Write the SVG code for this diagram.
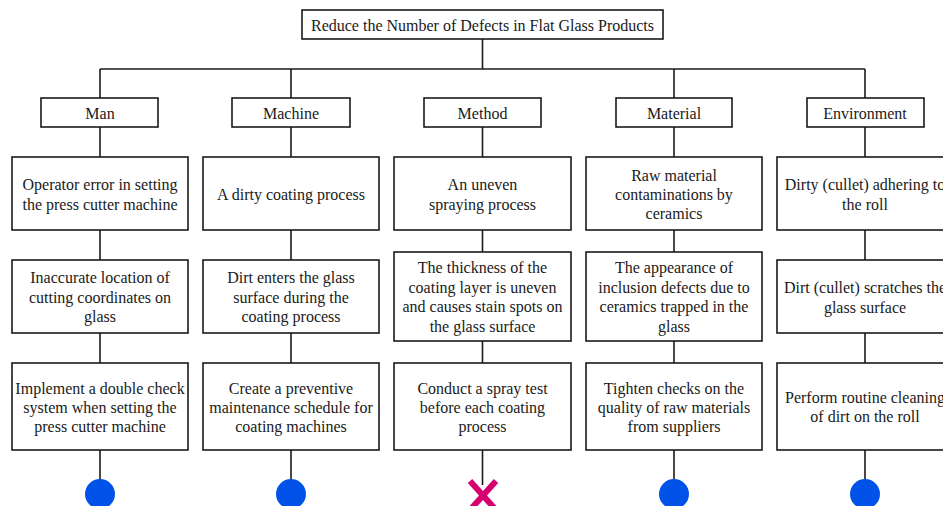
<svg xmlns="http://www.w3.org/2000/svg" width="943" height="506" viewBox="0 0 943 506" font-family="'Liberation Serif', 'DejaVu Serif', 'Times New Roman', serif">
  <style>
    .box { fill: #ffffff; stroke: #1a1a1a; stroke-width: 1.6; }
    .lbl { font-family: "Liberation Serif", "DejaVu Serif", "Times New Roman", serif; font-size: 16px; fill: #1a1a1a; text-anchor: middle; }
    .wire { stroke: #1a1a1a; stroke-width: 1.6; fill: none; }
    .ok { fill: #0052e8; }
    .bad { stroke: #d6006f; stroke-width: 6; stroke-linecap: butt; }
  </style>
  <rect width="943" height="506" fill="#ffffff"/>

  <!-- connectors -->
  <g id="connectors" class="wire">
    <line x1="482.5" y1="39" x2="482.5" y2="69"/>
    <line x1="100" y1="69" x2="865" y2="69"/>
    <line x1="100" y1="69" x2="100" y2="98"/>
    <line x1="291" y1="69" x2="291" y2="98"/>
    <line x1="674" y1="69" x2="674" y2="98"/>
    <line x1="865" y1="69" x2="865" y2="98"/>
    <!-- Man -->
    <line x1="100" y1="127" x2="100" y2="157"/>
    <line x1="100" y1="230" x2="100" y2="260"/>
    <line x1="100" y1="333" x2="100" y2="363"/>
    <line x1="100" y1="450" x2="100" y2="480"/>
    <!-- Machine -->
    <line x1="291" y1="127" x2="291" y2="157"/>
    <line x1="291" y1="230" x2="291" y2="260"/>
    <line x1="291" y1="333" x2="291" y2="363"/>
    <line x1="291" y1="450" x2="291" y2="480"/>
    <!-- Method -->
    <line x1="482.5" y1="127" x2="482.5" y2="157"/>
    <line x1="482.5" y1="230" x2="482.5" y2="252"/>
    <line x1="482.5" y1="341" x2="482.5" y2="363"/>
    <line x1="482.5" y1="450" x2="482.5" y2="485"/>
    <!-- Material -->
    <line x1="674" y1="127" x2="674" y2="157"/>
    <line x1="674" y1="230" x2="674" y2="252"/>
    <line x1="674" y1="341" x2="674" y2="363"/>
    <line x1="674" y1="450" x2="674" y2="480"/>
    <!-- Environment -->
    <line x1="865" y1="127" x2="865" y2="157"/>
    <line x1="865" y1="230" x2="865" y2="260"/>
    <line x1="865" y1="333" x2="865" y2="363"/>
    <line x1="865" y1="450" x2="865" y2="480"/>
  </g>

  <g id="goal">
    <rect class="box" x="302" y="10" width="361" height="29"/>
    <text class="lbl" x="482.5" y="31">Reduce the Number of Defects in Flat Glass Products</text>
  </g>

  <!-- category headers -->
  <g id="cat-man"><rect class="box" x="41" y="98" width="117" height="29"/><text class="lbl" x="100" y="119">Man</text></g>
  <g id="cat-machine"><rect class="box" x="232" y="98" width="118" height="29"/><text class="lbl" x="291" y="119">Machine</text></g>
  <g id="cat-method"><rect class="box" x="424" y="98" width="117" height="29"/><text class="lbl" x="482.5" y="119">Method</text></g>
  <g id="cat-material"><rect class="box" x="616" y="98" width="116" height="29"/><text class="lbl" x="674" y="119">Material</text></g>
  <g id="cat-environment"><rect class="box" x="807" y="98" width="117" height="29"/><text class="lbl" x="865" y="119">Environment</text></g>

  <!-- Man column -->
  <g id="man-cause">
    <rect class="box" x="12" y="157" width="176" height="73"/>
    <text class="lbl" x="100" y="190">Operator error in setting</text>
    <text class="lbl" x="100" y="210">the press cutter machine</text>
  </g>
  <g id="man-effect">
    <rect class="box" x="12" y="260" width="176" height="73"/>
    <text class="lbl" x="100" y="283">Inaccurate location of</text>
    <text class="lbl" x="100" y="303">cutting coordinates on</text>
    <text class="lbl" x="100" y="322">glass</text>
  </g>
  <g id="man-action">
    <rect class="box" x="12" y="363" width="176" height="87"/>
    <text class="lbl" x="100" y="394">Implement a double check</text>
    <text class="lbl" x="100" y="413">system when setting the</text>
    <text class="lbl" x="100" y="432">press cutter machine</text>
  </g>
  <g id="man-status"><circle class="ok" cx="100" cy="494" r="15"/></g>

  <!-- Machine column -->
  <g id="machine-cause">
    <rect class="box" x="203" y="157" width="176" height="73"/>
    <text class="lbl" x="291" y="200">A dirty coating process</text>
  </g>
  <g id="machine-effect">
    <rect class="box" x="203" y="260" width="176" height="73"/>
    <text class="lbl" x="291" y="283">Dirt enters the glass</text>
    <text class="lbl" x="291" y="303">surface during the</text>
    <text class="lbl" x="291" y="322">coating process</text>
  </g>
  <g id="machine-action">
    <rect class="box" x="203" y="363" width="176" height="87"/>
    <text class="lbl" x="291" y="394">Create a preventive</text>
    <text class="lbl" x="291" y="413">maintenance schedule for</text>
    <text class="lbl" x="291" y="432">coating machines</text>
  </g>
  <g id="machine-status"><circle class="ok" cx="291" cy="494" r="15"/></g>

  <!-- Method column -->
  <g id="method-cause">
    <rect class="box" x="394" y="157" width="177" height="73"/>
    <text class="lbl" x="482.5" y="190">An uneven</text>
    <text class="lbl" x="482.5" y="210">spraying process</text>
  </g>
  <g id="method-effect">
    <rect class="box" x="394" y="252" width="177" height="89"/>
    <text class="lbl" x="482.5" y="273">The thickness of the</text>
    <text class="lbl" x="482.5" y="293">coating layer is uneven</text>
    <text class="lbl" x="482.5" y="312">and causes stain spots on</text>
    <text class="lbl" x="482.5" y="332">the glass surface</text>
  </g>
  <g id="method-action">
    <rect class="box" x="394" y="363" width="177" height="87"/>
    <text class="lbl" x="482.5" y="394">Conduct a spray test</text>
    <text class="lbl" x="482.5" y="413">before each coating</text>
    <text class="lbl" x="482.5" y="432">process</text>
  </g>
  <g id="method-status">
    <line class="bad" x1="470" y1="481" x2="496" y2="510"/>
    <line class="bad" x1="496" y1="481" x2="470" y2="510"/>
  </g>

  <!-- Material column -->
  <g id="material-cause">
    <rect class="box" x="586" y="157" width="176" height="73"/>
    <text class="lbl" x="674" y="181">Raw material</text>
    <text class="lbl" x="674" y="200">contaminations by</text>
    <text class="lbl" x="674" y="219">ceramics</text>
  </g>
  <g id="material-effect">
    <rect class="box" x="586" y="252" width="176" height="89"/>
    <text class="lbl" x="674" y="273">The appearance of</text>
    <text class="lbl" x="674" y="293">inclusion defects due to</text>
    <text class="lbl" x="674" y="312">ceramics trapped in the</text>
    <text class="lbl" x="674" y="332">glass</text>
  </g>
  <g id="material-action">
    <rect class="box" x="586" y="363" width="176" height="87"/>
    <text class="lbl" x="674" y="394">Tighten checks on the</text>
    <text class="lbl" x="674" y="413">quality of raw materials</text>
    <text class="lbl" x="674" y="432">from suppliers</text>
  </g>
  <g id="material-status"><circle class="ok" cx="674" cy="494" r="15"/></g>

  <!-- Environment column (runs past the right edge) -->
  <g id="environment-cause">
    <rect class="box" x="777" y="157" width="176" height="73"/>
    <text class="lbl" x="865" y="190">Dirty (cullet) adhering to</text>
    <text class="lbl" x="865" y="210">the roll</text>
  </g>
  <g id="environment-effect">
    <rect class="box" x="777" y="260" width="176" height="73"/>
    <text class="lbl" x="865" y="293">Dirt (cullet) scratches the</text>
    <text class="lbl" x="865" y="313">glass surface</text>
  </g>
  <g id="environment-action">
    <rect class="box" x="777" y="363" width="176" height="87"/>
    <text class="lbl" x="865" y="403">Perform routine cleaning</text>
    <text class="lbl" x="865" y="422">of dirt on the roll</text>
  </g>
  <g id="environment-status"><circle class="ok" cx="865" cy="494" r="15"/></g>
</svg>
